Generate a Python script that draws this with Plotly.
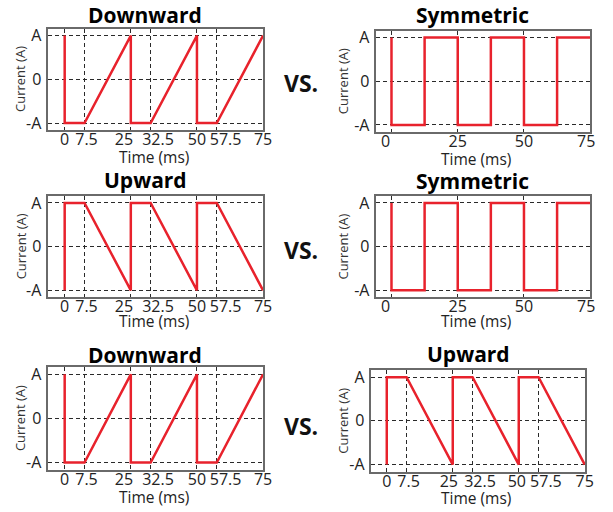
import plotly.graph_objects as go

# ---- data ----
time_ramp = [0, 0, 7.5, 25, 25, 32.5, 50, 50, 57.5, 75]
current_downward = [1, -1, -1, 1, -1, -1, 1, -1, -1, 1]
current_upward = [-1, 1, 1, -1, 1, 1, -1, 1, 1, -1]
time_symmetric = [0, 0, 12.5, 12.5, 25, 25, 37.5, 37.5, 50, 50, 62.5, 62.5, 75]
current_symmetric = [1, -1, -1, 1, 1, -1, -1, 1, 1, -1, -1, 1, 1]

ramp_ticks = [0, 7.5, 25, 32.5, 50, 57.5, 75]
ramp_ticklabels = ["0", "7.5", "25", "32.5", "50", "57.5", "75"]
sym_ticks = [0, 25, 50, 75]
sym_ticklabels = ["0", "25", "50", "75"]
y_ticks = [-1, 0, 1]
y_ticklabels = ["-A", "0", "A"]

# horizontal pixel nudges of tick labels (as laid out in the reference)
ramp_nudge_px = [0, 2, -7, 7.5, 0, 9, 0]
ramp_nudge_px_r3 = [0, 2, -4, 7.5, -2, 7.5, 0]
sym_nudge_px = [-6, 0, 0, -4]

W, H = 613, 512
RED = "#e8222c"
FONT = "Open Sans"

panels = [
    ("Downward", time_ramp, current_downward, ramp_ticks, ramp_ticklabels, ramp_nudge_px,
     (49, 267, 25, 128), [-6.2, 75], 147, 11, (156, 155), (21, 76.5)),
    ("Symmetric", time_symmetric, current_symmetric, sym_ticks, sym_ticklabels, sym_nudge_px,
     (382, 599, 27, 130), [-5.7, 75], 480, 11.5, (483, 157), (347.5, 78)),
    ("Upward", time_ramp, current_upward, ramp_ticks, ramp_ticklabels, ramp_nudge_px,
     (49, 267, 195, 298), [-6.2, 75], 147.5, 178.5, (156, 322.5), (21, 246.5)),
    ("Symmetric", time_symmetric, current_symmetric, sym_ticks, sym_ticklabels, sym_nudge_px,
     (382, 599, 195, 298), [-5.7, 75], 480, 180, (483, 322), (348, 246.5)),
    ("Downward", time_ramp, current_downward, ramp_ticks, ramp_ticklabels, ramp_nudge_px,
     (49, 267, 369, 473), [-6.2, 75], 147, 356.5, (156, 500.5), (21, 421)),
    ("Upward", time_ramp, current_upward, ramp_ticks, ramp_ticklabels, ramp_nudge_px_r3,
     (377, 594, 372, 475), [-5.8, 75.2], 475, 356, (483.5, 502), (348, 423.5)),
]

vs_positions = [(305, 80.5), (305, 250), (305, 429)]

fig = go.Figure()
annotations = []
layout = {}
for i, (title, xs, ys, ticks, labels, npx, box, xr, tx, ty, tl, cl) in enumerate(panels):
    n = "" if i == 0 else str(i + 1)
    l, r, t, b = box
    scale = (r - l) / (xr[1] - xr[0])
    label_pos = [v + d / scale for v, d in zip(ticks, npx)]
    fig.add_trace(go.Scatter(
        x=xs, y=ys, mode="lines", line=dict(color=RED, width=2.5),
        xaxis="x" + n, yaxis="y" + n, showlegend=False, hoverinfo="skip"))
    frame = dict(
        showline=True, mirror=True, linecolor="#6a6a6a", linewidth=1.5,
        zeroline=False, ticks="", tickangle=0,
        tickfont=dict(family=FONT, size=16, color="#222"),
        fixedrange=True,
    )
    grid = dict(showgrid=True, gridcolor="#2a2a2a", gridwidth=1, griddash="4px,3px")
    layout["xaxis" + n] = dict(
        domain=[l / W, r / W], range=xr, anchor="y" + n,
        tickmode="array", tickvals=label_pos, ticktext=labels, showgrid=False,
        ticklabelstandoff=-6,
        minor=dict(tickmode="array", tickvals=ticks, ticks="", **grid),
        **frame)
    layout["yaxis" + n] = dict(
        domain=[1 - b / H, 1 - t / H], range=[-1.16, 1.16], anchor="x" + n,
        tickmode="array", tickvals=y_ticks, ticktext=y_ticklabels,
        ticklabelstandoff=2, **grid, **frame)
    annotations.append(dict(
        text="<b>" + title + "</b>", x=tx / W, y=1 - ty / H, xref="paper", yref="paper",
        xanchor="center", yanchor="middle", showarrow=False,
        font=dict(family=FONT, size=21, color="#000")))
    annotations.append(dict(
        text="Time (ms)", x=tl[0] / W, y=1 - tl[1] / H, xref="paper", yref="paper",
        xanchor="center", yanchor="middle", showarrow=False,
        font=dict(family=FONT, size=15.5, color="#222")))
    annotations.append(dict(
        text="Current (A)", x=cl[0] / W, y=1 - cl[1] / H, xref="paper", yref="paper",
        xanchor="center", yanchor="middle", showarrow=False, textangle=-90,
        font=dict(family=FONT, size=13, color="#333")))

for vx, vy in vs_positions:
    annotations.append(dict(
        text="<b>VS.</b>", x=vx / W, y=1 - vy / H, xref="paper", yref="paper",
        xanchor="center", yanchor="middle", showarrow=False,
        font=dict(family=FONT, size=23, color="#111")))

fig.update_layout(
    width=W, height=H, margin=dict(l=0, r=0, t=0, b=0),
    paper_bgcolor="white", plot_bgcolor="white",
    annotations=annotations, **layout)

fig.write_html("out.html")
